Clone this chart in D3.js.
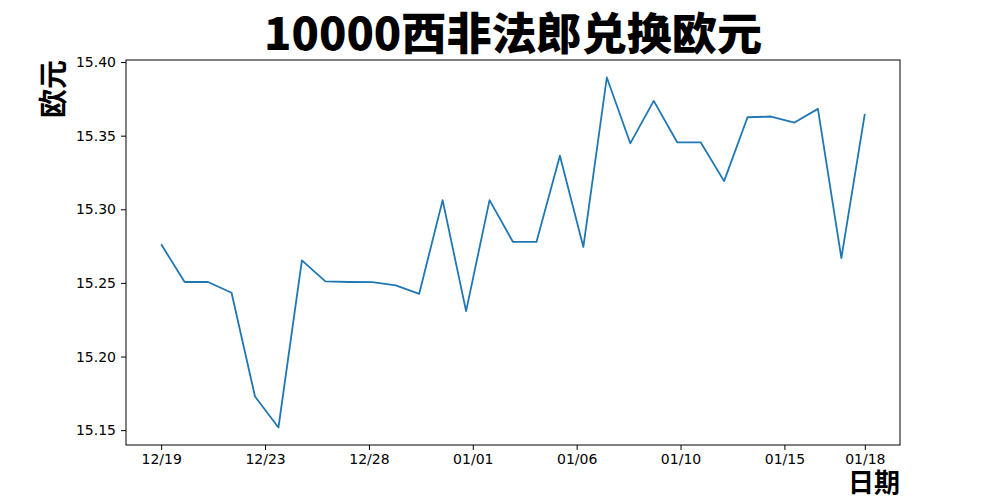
<!DOCTYPE html>
<html lang="zh">
<head>
<meta charset="utf-8">
<title>10000西非法郎兑换欧元</title>
<script src="https://d3js.org/d3.v7.min.js"></script>
<style>
  body { margin: 0; background: #fff; }
  svg { display: block; }
  .tick text { font-family: "DejaVu Sans", sans-serif; font-size: 14px; fill: #000; }
  .tick line { stroke: #000; }
  .domain { display: none; }
</style>
</head>
<body>
<div id="chart"></div>
<script>
    // dates (one point per day) and values
    var dates = ["12/19","12/20","12/21","12/22","12/23","12/24","12/25","12/26","12/27","12/28",
                 "12/29","12/30","12/31","01/01","01/02","01/03","01/04","01/05","01/06","01/07",
                 "01/08","01/09","01/10","01/11","01/12","01/13","01/14","01/15","01/16","01/17","01/18"];
    var values = [15.2762, 15.2506, 15.2506, 15.2433, 15.1729, 15.1518, 15.2653, 15.2510, 15.2506, 15.2505,
                  15.2483, 15.2426, 15.3062, 15.2308, 15.3062, 15.2778, 15.2778, 15.3364, 15.2744, 15.3895,
                  15.3448, 15.3736, 15.3455, 15.3455, 15.3191, 15.3625, 15.3630, 15.3589, 15.3682, 15.2669, 15.3648];
    // x ticks sit at fractional positions (every 31/7 points, plus the last point)
    var xTickPos = [0, 31/7, 62/7, 93/7, 124/7, 155/7, 186/7, 30];
    var xTickLabels = ["12/19","12/23","12/28","01/01","01/06","01/10","01/15","01/18"];
    var yTicks = [15.15, 15.20, 15.25, 15.30, 15.35, 15.40];

    var svgWidth = 1000,
        svgHeight = 500,
        margin = {top: 60, right: 100, bottom: 55, left: 126},
        width = svgWidth - margin.left - margin.right,
        height = svgHeight - margin.top - margin.bottom;

    var svg = d3.select("#chart")
        .append("svg")
        .attr("width", svgWidth)
        .attr("height", svgHeight);

    var g = svg.append("g")
        .attr("transform", "translate(" + margin.left + "," + margin.top + ")");

    // matplotlib style 5% margins
    var n = values.length - 1;
    var x = d3.scaleLinear()
        .domain([-0.05 * n, n * 1.05])
        .range([0, width]);

    var yMin = d3.min(values), yMax = d3.max(values), pad = (yMax - yMin) * 0.05;
    var y = d3.scaleLinear()
        .domain([yMin - pad, yMax + pad])
        .range([height, 0]);

    // axes
    g.append("g")
        .attr("transform", "translate(0," + height + ")")
        .call(d3.axisBottom(x)
            .tickValues(xTickPos)
            .tickFormat(function(d, i) { return xTickLabels[i]; })
            .tickSize(5)
            .tickPadding(4));

    g.append("g")
        .call(d3.axisLeft(y)
            .tickValues(yTicks)
            .tickFormat(d3.format(".2f"))
            .tickSize(5)
            .tickPadding(5));

    // frame
    g.append("rect")
        .attr("width", width)
        .attr("height", height)
        .attr("fill", "none")
        .attr("stroke", "#000")
        .attr("stroke-width", 1);

    // the line
    var line = d3.line()
        .x(function(d, i) { return x(i); })
        .y(function(d) { return y(d); });

    g.append("path")
        .datum(values)
        .attr("fill", "none")
        .attr("stroke", "#1f77b4")
        .attr("stroke-width", 1.8)
        .attr("stroke-linejoin", "round")
        .attr("d", line);

    // title and axis labels
    svg.append("text")
        .attr("x", margin.left + width / 2)
        .attr("y", 50)
        .attr("text-anchor", "middle")
        .attr("font-family", "'Noto Sans CJK SC', sans-serif")
        .attr("font-weight", 900)
        .attr("font-size", 44)
        .attr("textLength", 498)
        .attr("lengthAdjust", "spacingAndGlyphs")
        .text("10000西非法郎兑换欧元");

    svg.append("text")
        .attr("transform", "translate(64," + margin.top + ") rotate(-90)")
        .attr("text-anchor", "end")
        .attr("font-family", "'Noto Sans CJK SC', sans-serif")
        .attr("font-weight", 700)
        .attr("font-size", 29)
        .text("欧元");

    svg.append("text")
        .attr("x", margin.left + width)
        .attr("y", 492)
        .attr("text-anchor", "end")
        .attr("font-family", "'Noto Sans CJK SC', sans-serif")
        .attr("font-weight", 700)
        .attr("font-size", 26)
        .text("日期");
</script>
</body>
</html>
